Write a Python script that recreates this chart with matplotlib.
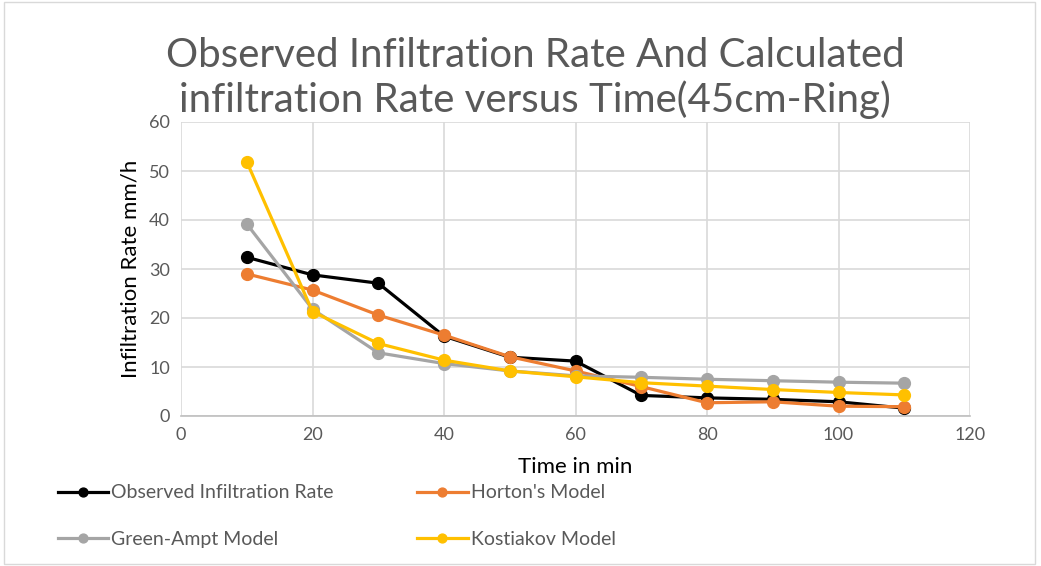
import matplotlib.pyplot as plt
from matplotlib.patches import Rectangle

# Data
time_min = [10, 20, 30, 40, 50, 60, 70, 80, 90, 100, 110]
observed = [32.4, 28.8, 27.1, 16.3, 12.0, 11.2, 4.2, 3.7, 3.4, 2.9, 1.6]
horton = [29.0, 25.7, 20.6, 16.5, 12.1, 9.2, 6.0, 2.7, 2.9, 2.0, 1.9]
green_ampt = [39.2, 21.8, 12.9, 10.7, 9.2, 8.2, 7.9, 7.5, 7.2, 6.9, 6.7]
kostiakov = [51.9, 21.3, 14.8, 11.4, 9.2, 8.0, 6.8, 6.1, 5.4, 4.8, 4.3]

series = [
    ("Observed Infiltration Rate", observed, "#000000"),
    ("Horton's Model", horton, "#ED7D31"),
    ("Green-Ampt Model", green_ampt, "#A5A5A5"),
    ("Kostiakov Model", kostiakov, "#FFC000"),
]

plt.rcParams['font.family'] = ['Lato', 'DejaVu Sans']

fig = plt.figure(figsize=(10.41, 5.66), dpi=100)
ax = fig.add_axes([181 / 1041, 1 - 416 / 566, (970 - 181) / 1041, (416 - 122) / 566])

lines = []
for name, vals, col in series:
    ln, = ax.plot(time_min, vals, color=col, lw=2.3, marker="o", ms=8.5, label=name, zorder=3)
    lines.append(ln)

ax.set_xlim(0, 120)
ax.set_ylim(0, 60)
ax.set_xticks(range(0, 121, 20))
ax.set_yticks(range(0, 61, 10))
ax.grid(True, color="#D9D9D9", lw=1.2)
ax.set_axisbelow(True)
for s in ["top", "right", "left"]:
    ax.spines[s].set_visible(False)
ax.spines["bottom"].set_color("#BFBFBF")
ax.spines["bottom"].set_linewidth(1.2)
ax.tick_params(length=0, labelsize=13, colors="#595959", pad=8)

ax.set_xlabel("Time in min", fontsize=16, labelpad=10)
ax.set_ylabel("Infiltration Rate mm/h", fontsize=16, labelpad=6)

fig.text(0.514, 1 - 78 / 566, "Observed Infiltration Rate And Calculated\ninfiltration Rate versus Time(45cm-Ring)",
         ha="center", va="center", fontsize=29, color="#595959", linespacing=1.2)

# legend filled row by row, like the original
order = [0, 2, 1, 3]
leg = fig.legend([lines[i] for i in order], [series[i][0] for i in order], ncol=2, loc="upper left",
                 bbox_to_anchor=(40 / 1041, 1 - 467 / 566),
                 frameon=False, fontsize=14, handlelength=2.6, handletextpad=0.15,
                 columnspacing=4.3, labelspacing=1.5, markerscale=0.75)
for t in leg.get_texts():
    t.set_color("#595959")

fig.patches.append(Rectangle((4 / 1041, 2 / 566), 1031 / 1041, 562 / 566, transform=fig.transFigure,
                             fill=False, edgecolor="#D9D9D9", lw=1))

fig.savefig("out.png", dpi=100)
